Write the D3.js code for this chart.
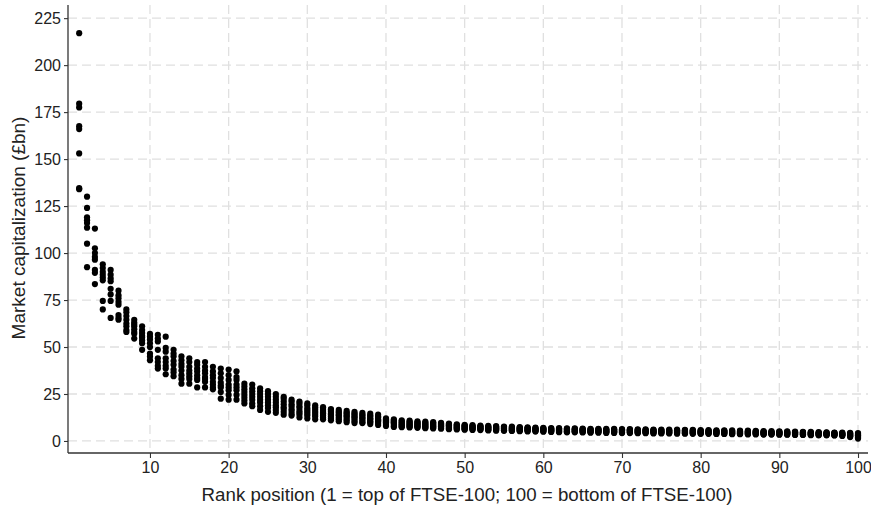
<!DOCTYPE html>
<html>
<head>
<meta charset="utf-8">
<script src="https://cdn.jsdelivr.net/npm/d3@7"></script>
<style>
  html, body { margin: 0; padding: 0; background: #ffffff; }
  svg { display: block; }
</style>
</head>
<body>
<svg id="chart" width="871" height="510"></svg>
<script>
// ---- Data: market capitalization (£bn) by FTSE-100 rank, eight snapshots ----
const ranks = d3.range(1, 101);
const xTicks = [10, 20, 30, 40, 50, 60, 70, 80, 90, 100];
const yTicks = [0, 25, 50, 75, 100, 125, 150, 175, 200, 225];

const series1 = [217,130,113,94,91,80,70,64.5,61,57,56.5,55.5,48.5,45,44,42,42,39.5,38.5,38,37,30.5,
  30,28,26.5,25,23.5,22,21,20,19,18,17,16.5,16,15.5,15,14.5,14,12,11.5,
  11,10.8,10.5,10.3,10,9.6,9.2,8.9,8.6,8.4,8.2,8,7.9,7.7,7.6,7.4,7.3,7.1,7,6.9,6.8,6.7,6.7,6.6,6.5,6.5,6.4,6.4,6.3,6.3,6.2,6.2,6.1,6.1,6,6,5.9,5.9,5.8,5.8,5.7,5.7,5.6,5.5,5.5,5.4,5.3,5.2,5.1,5.1,5,4.9,4.8,4.7,4.6,4.5,4.4,4.3,4.2];
const series2 = [179.5,124,102.5,92,88.5,77.5,68.5,63,59,55.5,54.5,49.5,46.5,43,42,40.5,39.5,37,36,35,34,29,
  28,26.5,25,23.5,22.5,21,20,19,18,17,16.5,15.5,15,14.5,14,13.5,13,11.5,11,
  10.4,10.2,9.9,9.7,9.5,9.1,8.8,8.5,8.2,8,7.8,7.6,7.5,7.4,7.2,7.1,7,6.8,6.7,6.6,6.5,6.4,6.4,6.3,6.2,6.2,6.1,6.1,6,6,5.9,5.9,5.8,5.8,5.7,5.7,5.6,5.6,5.5,5.5,5.4,5.4,5.3,5.2,5.2,5.1,5,4.9,4.8,4.8,4.7,4.6,4.5,4.4,4.4,4.3,4.2,4,3.8];
const series3 = [177.5,119,100,90,86.5,76,66.5,62,57.5,54,53,47.5,45,41,39.5,38.5,37.5,35,33.5,32.5,32.5,27.5,
  26.5,25,23.5,22,21,19.5,18.5,17.5,17,16,15.5,15,14.5,14,13.5,13,12.5,11,10.5,
  9.8,9.6,9.4,9.2,9,8.7,8.4,8.1,7.9,7.7,7.5,7.3,7.2,7,6.9,6.8,6.7,6.5,6.4,6.3,6.2,6.1,6.1,6,5.9,5.9,5.8,5.8,5.7,5.7,5.6,5.6,5.5,5.5,5.4,5.4,5.3,5.3,5.2,5.2,5.1,5.1,5,4.9,4.9,4.8,4.7,4.6,4.6,4.5,4.5,4.4,4.3,4.2,4.1,4,3.9,3.7,3.4];
const series4 = [167.5,117.5,98,88.5,85,74,64.5,61,56,52,48.5,44,42.5,39.5,37.5,37,36,33.5,31,30,30,26,
  25,23.5,22,20.5,19.5,18.5,17.5,16.5,16,15,14.5,14,13.5,13,12.5,12,11.5,10.5,10,
  9.2,9.1,8.9,8.7,8.5,8.2,8,7.7,7.5,7.3,7.1,7,6.8,6.7,6.6,6.5,6.4,6.2,6.1,6,5.9,5.8,5.8,5.7,5.6,5.6,5.5,5.5,5.4,5.4,5.3,5.3,5.2,5.2,5.1,5.1,5,5,4.9,4.9,4.8,4.8,4.7,4.6,4.6,4.5,4.5,4.4,4.3,4.3,4.2,4.1,4,4,3.9,3.8,3.7,3.4,3];
const series5 = [166,116,96.5,87,81,72.5,62.5,59.5,55,50,44,42,40.5,37.5,36,35,34,31.5,29.5,28.5,28.5,24.5,
  23.5,22,20.5,19,18,17,16,15.5,15,14.5,14,13.5,13,12.5,12,11.5,11,10,9.5,
  8.7,8.6,8.4,8.2,8,7.8,7.6,7.3,7.1,6.9,6.8,6.6,6.5,6.4,6.3,6.1,6,5.9,5.8,5.7,5.6,5.5,5.5,5.4,5.3,5.3,5.2,5.2,5.1,5.1,5,5,4.9,4.9,4.8,4.8,4.7,4.7,4.6,4.6,4.5,4.5,4.4,4.3,4.3,4.2,4.2,4.1,4.1,4,4,3.9,3.8,3.7,3.7,3.6,3.4,3.1,2.6];
const series6 = [153,113.5,91,85.5,78,67,61,58,53.5,46.5,42,40,38,35,34.5,33.5,33,30,28.5,27,27,23,
  22,20.5,19,18,17,16,15,14.5,14,13.5,13,12.5,12,11.5,11,10.5,10.5,9.5,9,
  8.2,8.1,7.9,7.7,7.6,7.4,7.1,6.9,6.7,6.6,6.5,6.3,6.2,6,5.9,5.8,5.7,5.6,5.5,5.4,5.3,5.2,5.2,5.1,5,5,4.9,4.9,4.8,4.8,4.7,4.7,4.6,4.6,4.5,4.5,4.4,4.4,4.3,4.3,4.2,4.2,4.1,4.1,4,4,3.9,3.9,3.8,3.8,3.7,3.6,3.6,3.5,3.4,3.3,3.2,2.8,2.2];
const series7 = [134.5,105,89.5,74.5,74.5,65.5,59,57,52,45,40,38.5,36.5,33,33,32.5,31.5,28.5,26,24.5,24.5,21.5,
  20,18.5,17.5,16.5,15.5,14.5,14,13.5,13,12.5,12,11.5,11,10.5,10,10,9.5,9,8,
  7.7,7.6,7.4,7.2,7.1,6.9,6.7,6.5,6.3,6.2,6.1,5.9,5.8,5.7,5.6,5.5,5.4,5.3,5.2,5.1,5,4.9,4.9,4.8,4.7,4.7,4.6,4.6,4.5,4.5,4.4,4.4,4.3,4.3,4.2,4.2,4.1,4.1,4,4,3.9,3.9,3.8,3.8,3.7,3.7,3.6,3.6,3.5,3.5,3.4,3.4,3.3,3.2,3.2,3.1,3,2.5,1.8];
const series8 = [134,92.5,83.5,70,65.5,64.5,58,54.5,48.5,43,38.5,35.5,34.5,30.5,30.5,28.5,28.5,27.5,22.5,22,22,20,
  18.5,16.5,15.5,15,14,13.5,12.5,12,11.5,11.5,11,10.5,10,9.5,9.5,9,8.5,8,7.5,
  7.3,7.2,7,6.8,6.7,6.5,6.3,6.1,6,5.9,5.8,5.6,5.5,5.4,5.3,5.2,5.1,5,4.9,4.8,4.7,4.6,4.6,4.5,4.4,4.4,4.3,4.3,4.2,4.2,4.1,4.1,4,4,4,3.9,3.9,3.8,3.8,3.8,3.7,3.7,3.6,3.6,3.5,3.5,3.4,3.4,3.3,3.3,3.2,3.2,3.1,3,3,2.9,2.7,2.1,1.3];

const allSeries = [series1, series2, series3, series4, series5, series6, series7, series8];
const points = [];
allSeries.forEach((s, si) => s.forEach((v, i) => {
  if (i < ranks.length) points.push({ rank: ranks[i], value: v, series: si });
}));

// ---- Layout ----
const svg = d3.select("#chart");
const plotL = 68, plotR = 868, plotT = 5, plotB = 453;
const x = d3.scaleLinear().domain([-0.42, 101.27]).range([plotL, plotR]);
const y = d3.scaleLinear().domain([-6.4, 232]).range([plotB, plotT]);
const font = "'Liberation Sans', Arial, Helvetica, sans-serif";

// Grid
const grid = svg.append("g").attr("stroke", "#e0e0e0").attr("stroke-width", 1.3)
  .attr("stroke-dasharray", "9,5").attr("fill", "none");
grid.selectAll("line.h").data(yTicks).join("line").attr("class", "h")
  .attr("x1", plotL).attr("x2", plotR)
  .attr("y1", d => y(d)).attr("y2", d => y(d));
grid.selectAll("line.v").data(xTicks).join("line").attr("class", "v")
  .attr("y1", plotT).attr("y2", plotB)
  .attr("x1", d => x(d)).attr("x2", d => x(d));

// Points
svg.append("g").selectAll("circle").data(points).join("circle")
  .attr("cx", d => x(d.rank)).attr("cy", d => y(d.value))
  .attr("r", 3.1).attr("fill", "#000");

// Axes
const xAxis = d3.axisBottom(x).tickValues(xTicks).tickSize(5).tickPadding(4).tickSizeOuter(0);
const yAxis = d3.axisLeft(y).tickValues(yTicks).tickSize(4).tickPadding(3).tickSizeOuter(0);

const gx = svg.append("g").attr("transform", `translate(0,${plotB})`).call(xAxis);
const gy = svg.append("g").attr("transform", `translate(${plotL},0)`).call(yAxis);
[gx, gy].forEach(g => {
  g.select(".domain").attr("stroke", "#333").attr("stroke-width", 1.3);
  g.selectAll(".tick line").attr("stroke", "#333").attr("stroke-width", 1.1);
  g.selectAll(".tick text").attr("fill", "#222").style("font-family", font).style("font-size", "16px");
});
gy.select(".domain").attr("d", `M0,${plotT}V${plotB}`);
gx.select(".domain").attr("d", `M${plotL},0H${plotR}`);

// Axis titles
svg.append("text")
  .attr("x", 467).attr("y", 501)
  .attr("text-anchor", "middle")
  .style("font-family", font).style("font-size", "18.7px").attr("fill", "#222")
  .text("Rank position (1 = top of FTSE-100; 100 = bottom of FTSE-100)");
svg.append("text")
  .attr("transform", `translate(25,228) rotate(-90)`)
  .attr("text-anchor", "middle")
  .style("font-family", font).style("font-size", "19px").attr("fill", "#222")
  .text("Market capitalization (£bn)");
</script>
</body>
</html>
